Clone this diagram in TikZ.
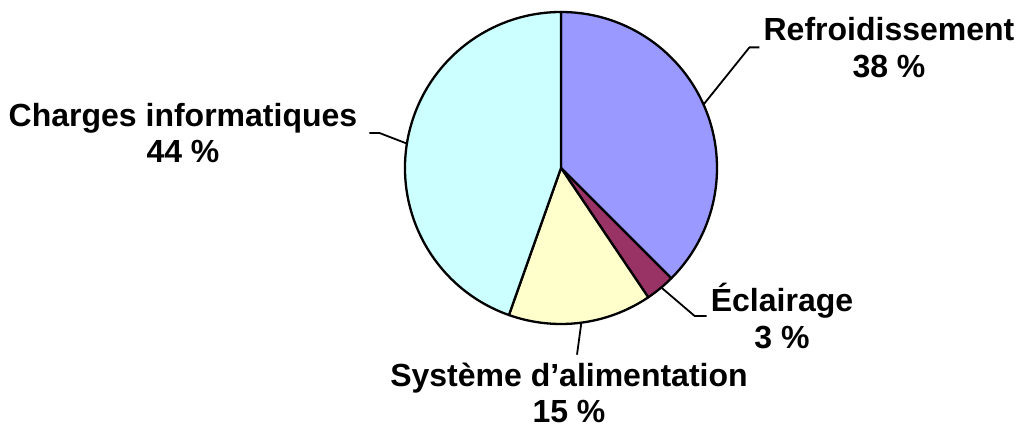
\documentclass[tikz,border=0pt]{standalone}
\usepackage{fontspec}
\setmainfont{Liberation Sans}

\definecolor{refroidcol}{HTML}{9999FF}
\definecolor{eclairagecol}{HTML}{993366}
\definecolor{systemecol}{HTML}{FFFFCC}
\definecolor{chargescol}{HTML}{CCFFFF}

\tikzset{
    slice/.style={draw=black,line width=2.3pt,line join=round},
    leader/.style={draw=black,line width=1.8pt},
    pielabel/.style={
        font=\fontsize{32}{36.5}\selectfont\bfseries,
        align=center,
        inner sep=4pt
    }
}

\begin{document}
\begin{tikzpicture}[
    x=1pt,
    y=1pt
]
    \useasboundingbox (0,0) rectangle (1017,429);
    \coordinate (pie) at (561,261);
    % slices
    \filldraw[slice,fill=refroidcol] (pie) -- ++(90:156)
        arc[start angle=90,end angle=-45,radius=156pt] -- cycle;
    \filldraw[slice,fill=eclairagecol] (pie) -- ++(-45:156)
        arc[start angle=-45,end angle=-56,radius=156pt] -- cycle;
    \filldraw[slice,fill=systemecol] (pie) -- ++(-56:156)
        arc[start angle=-56,end angle=-109.5,radius=156pt] -- cycle;
    \filldraw[slice,fill=chargescol] (pie) -- ++(-109.5:156)
        arc[start angle=-109.5,end angle=-270,radius=156pt] -- cycle;
    % points on the rim
    \path (pie) ++(24:156) coordinate (refroidedge);
    \path (pie) ++(-50:156) coordinate (eclairageedge);
    \path (pie) ++(-82.5:156) coordinate (systemeedge);
    \path (pie) ++(171:156) coordinate (chargesedge);
    % labels
    \node[pielabel] (refroid) at (889,381.6) {Refroidissement\\38 \%};
    \node[pielabel] (eclairage) at (782,113) {Éclairage\\3 \%};
    \node[pielabel] (systeme) at (569,36) {Système d’alimentation\\15 \%};
    \node[pielabel] (charges) at (183,296) {Charges informatiques\\44 \%};
    % leaders
    \draw[leader] (refroidedge) -- ([xshift=-10pt]refroid.west) -- (refroid.west);
    \draw[leader] (eclairageedge) -- ([xshift=-12pt]eclairage.west) -- (eclairage.west);
    \draw[leader] (systemeedge) -- ([xshift=8pt,yshift=4pt]systeme.north);
    \draw[leader] (chargesedge) -- ([xshift=18pt]charges.east) -- ([xshift=8pt]charges.east);
\end{tikzpicture}
\end{document}
